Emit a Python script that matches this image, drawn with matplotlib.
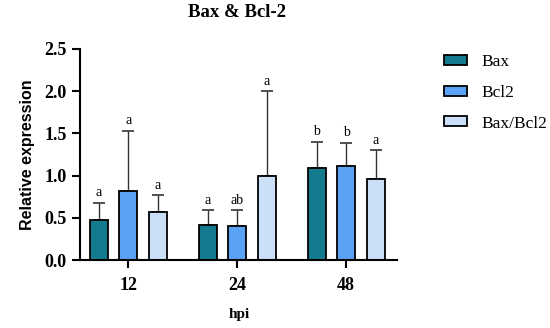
import matplotlib.pyplot as plt
import numpy as np

groups = ['12', '24', '48']
series = ['Bax', 'Bcl2', 'Bax/Bcl2']
colors = ['#137b8d', '#5aa2f5', '#cbe0f7']

values = [
    [0.47, 0.41, 1.09],   # Bax
    [0.82, 0.40, 1.11],   # Bcl2
    [0.57, 1.00, 0.96],   # Bax/Bcl2
]
errors = [
    [0.21, 0.18, 0.31],
    [0.71, 0.19, 0.28],
    [0.20, 1.00, 0.34],
]
letters = [
    ['a', 'a', 'b'],
    ['a', 'ab', 'b'],
    ['a', 'a', 'a'],
]

serif = 'Liberation Serif'
sans = 'Liberation Sans'

fig = plt.figure(figsize=(5.5, 3.28), dpi=100)
ax = fig.add_axes([0.1455, 0.207, 0.577, 0.644])

x = np.arange(len(groups))
offset = 0.27
width = 0.165

for i, name in enumerate(series):
    pos = x + (i - 1) * offset
    v = np.array(values[i])
    e = np.array(errors[i])
    ax.bar(pos, v, width, color=colors[i], edgecolor='black', linewidth=1.3,
           label=name, zorder=2)
    ax.errorbar(pos, v, yerr=[np.zeros_like(e), e], fmt='none', ecolor='#333333',
                elinewidth=1.0, capsize=4, capthick=1.2, zorder=1)
    for p, top, lab in zip(pos, v + e, letters[i]):
        ax.text(p, top + 0.04, lab, ha='center', va='bottom', family=serif,
                fontsize=10)

ax.set_xlim(-0.445, 2.47)
ax.set_ylim(0, 2.5)
ax.set_yticks(np.arange(0, 2.51, 0.5))
ax.set_yticklabels(['%.1f' % t for t in np.arange(0, 2.51, 0.5)])
ax.set_xticks(x)
ax.set_xticklabels(groups)
for lab in ax.get_xticklabels() + ax.get_yticklabels():
    lab.set_family(serif)
    lab.set_fontweight('bold')
    lab.set_fontsize(13)

ax.spines['top'].set_visible(False)
ax.spines['right'].set_visible(False)
ax.spines['left'].set_linewidth(1.5)
ax.spines['bottom'].set_linewidth(1.5)
ax.tick_params(axis='both', width=1.5, length=6)
ax.tick_params(axis='x', pad=6)

ax.set_xlabel('hpi', family=serif, fontweight='bold', fontsize=11, labelpad=10)
ax.set_ylabel('Relative expression', family=sans, fontweight='bold',
              fontsize=11.5, labelpad=7)

fig.text(0.43, 0.962, 'Bax & Bcl-2', family=serif, fontweight='bold',
         fontsize=13.5, ha='center', va='center')

leg = fig.legend(loc='upper left', bbox_to_anchor=(444 / 550, 1 - 54 / 328),
                 bbox_transform=fig.transFigure, frameon=False,
                 prop={'family': serif, 'size': 12.5}, handlelength=1.3,
                 handleheight=0.5, handletextpad=0.85, labelspacing=0.85,
                 borderpad=0, borderaxespad=0)

fig.savefig('out.png', dpi=100)
